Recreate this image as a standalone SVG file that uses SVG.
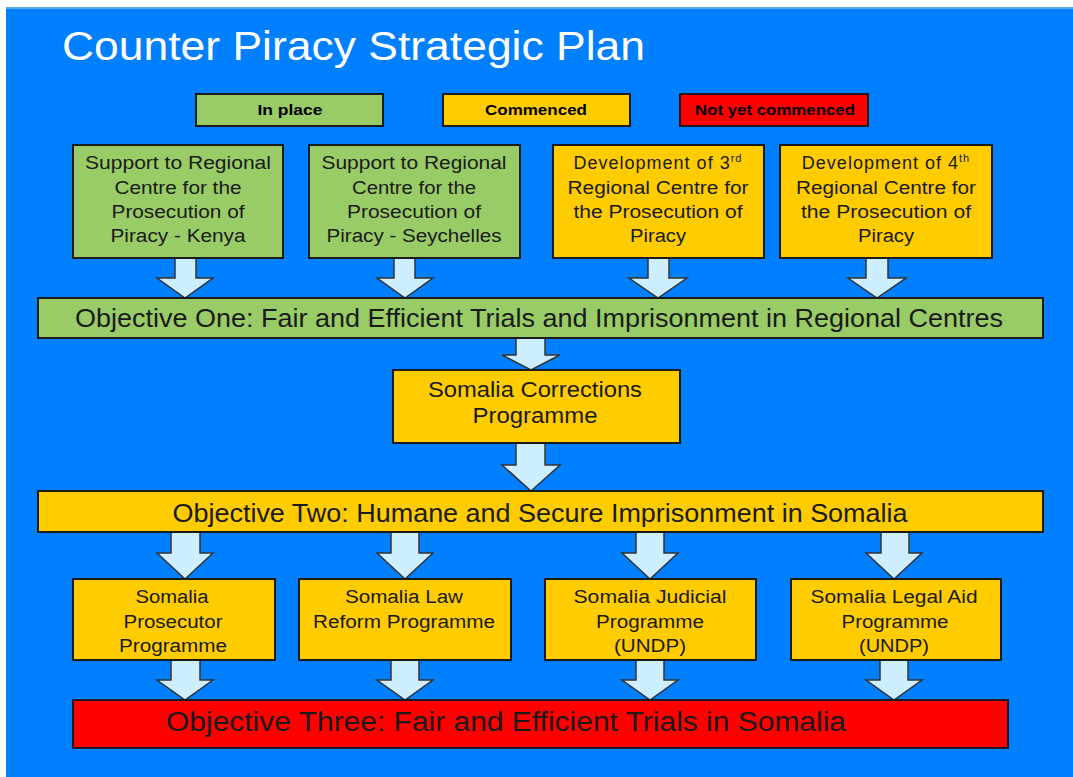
<svg xmlns="http://www.w3.org/2000/svg" width="1073" height="777" viewBox="0 0 1073 777">
<style>
.box{stroke:#1a1a1a;stroke-width:2}
.g{fill:#99CC66}
.y{fill:#FFCC00}
.r{fill:#FF0000}
.t{font-family:"Liberation Sans",Arial,sans-serif;fill:#1a1a1a;text-anchor:middle}
.s{font-size:18px}
.b{font-size:22px}
.o{font-size:25px}
.lg{font-size:15px;font-weight:bold;fill:#000}
.arr{fill:#CCEEFF;stroke:#333;stroke-width:1.5;stroke-linejoin:miter}
</style>
<rect x="0" y="0" width="1073" height="777" fill="#ffffff"/>
<rect x="6" y="7" width="1067" height="770" fill="#0080FF"/>
<rect x="6" y="7" width="1067" height="2" fill="#55AAEE"/>
<text x="62" y="60" font-family="'Liberation Sans',Arial,sans-serif" font-size="40" fill="#ffffff" textLength="583" lengthAdjust="spacingAndGlyphs">Counter Piracy Strategic Plan</text>

<g id="legend-in-place">
<rect class="box g" x="196" y="94" width="187" height="32"/>
<text class="t lg" x="290" y="115" textLength="65" lengthAdjust="spacingAndGlyphs">In place</text>
</g>
<g id="legend-commenced">
<rect class="box y" x="443" y="94" width="187" height="32"/>
<text class="t lg" x="536" y="115" textLength="102" lengthAdjust="spacingAndGlyphs">Commenced</text>
</g>
<g id="legend-not-commenced">
<rect class="box r" x="680" y="94" width="188" height="32"/>
<text class="t lg" x="775" y="115" textLength="160" lengthAdjust="spacingAndGlyphs">Not yet commenced</text>
</g>

<g id="connectors">
<path class="arr" d="M175,258 H196 V278 H213 L185,298 L157,278 H175 Z"/>
<path class="arr" d="M394,258 H415 V278 H433 L405,298 L377,278 H394 Z"/>
<path class="arr" d="M648,258 H669 V278 H687 L658,298 L629,278 H648 Z"/>
<path class="arr" d="M866,258 H888 V278 H906 L877,298 L848,278 H866 Z"/>
<path class="arr" d="M516,338 H545 V355 H560 L531,370 L502,355 H516 Z"/>
<path class="arr" d="M516,443 H545 V465 H560 L531,491 L502,465 H516 Z"/>
<path class="arr" d="M171,532 H200 V553 H213 L185,579 L157,553 H171 Z"/>
<path class="arr" d="M391,532 H419 V553 H433 L405,579 L377,553 H391 Z"/>
<path class="arr" d="M636,532 H664 V553 H678 L650,579 L622,553 H636 Z"/>
<path class="arr" d="M881,532 H909 V553 H922 L894,579 L866,553 H881 Z"/>
<path class="arr" d="M171,660 H200 V680 H213 L185,700 L157,680 H171 Z"/>
<path class="arr" d="M391,660 H419 V680 H433 L405,700 L377,680 H391 Z"/>
<path class="arr" d="M636,660 H664 V680 H678 L650,700 L622,680 H636 Z"/>
<path class="arr" d="M880,660 H908 V680 H922 L894,700 L866,680 H880 Z"/>
</g>

<g id="kenya">
<rect class="box g" x="73" y="145" width="210" height="113"/>
<text class="t s" x="178" y="169" textLength="186" lengthAdjust="spacingAndGlyphs">Support to Regional</text>
<text class="t s" x="178" y="194" textLength="127" lengthAdjust="spacingAndGlyphs">Centre for the</text>
<text class="t s" x="178" y="218" textLength="133" lengthAdjust="spacingAndGlyphs">Prosecution of</text>
<text class="t s" x="178" y="242" textLength="135" lengthAdjust="spacingAndGlyphs">Piracy - Kenya</text>
</g>
<g id="seychelles">
<rect class="box g" x="309" y="145" width="211" height="113"/>
<text class="t s" x="414" y="169" textLength="185" lengthAdjust="spacingAndGlyphs">Support to Regional</text>
<text class="t s" x="414" y="194" textLength="124" lengthAdjust="spacingAndGlyphs">Centre for the</text>
<text class="t s" x="414" y="218" textLength="134" lengthAdjust="spacingAndGlyphs">Prosecution of</text>
<text class="t s" x="414" y="242" textLength="175" lengthAdjust="spacingAndGlyphs">Piracy - Seychelles</text>
</g>
<g id="third-centre">
<rect class="box y" x="553" y="145" width="211" height="113"/>
<text class="t s" x="658" y="169" letter-spacing="1">Development of 3<tspan font-size="11" dy="-7">rd</tspan></text>
<text class="t s" x="658" y="194" textLength="181" lengthAdjust="spacingAndGlyphs">Regional Centre for</text>
<text class="t s" x="658" y="218" textLength="169" lengthAdjust="spacingAndGlyphs">the Prosecution of</text>
<text class="t s" x="658" y="242" textLength="56" lengthAdjust="spacingAndGlyphs">Piracy</text>
</g>
<g id="fourth-centre">
<rect class="box y" x="780" y="145" width="212" height="113"/>
<text class="t s" x="886" y="169" letter-spacing="1">Development of 4<tspan font-size="11" dy="-7">th</tspan></text>
<text class="t s" x="886" y="194" textLength="180" lengthAdjust="spacingAndGlyphs">Regional Centre for</text>
<text class="t s" x="886" y="218" textLength="170" lengthAdjust="spacingAndGlyphs">the Prosecution of</text>
<text class="t s" x="886" y="242" textLength="56" lengthAdjust="spacingAndGlyphs">Piracy</text>
</g>

<g id="objective-one">
<rect class="box g" x="38" y="298" width="1005" height="40"/>
<text class="t o" x="539" y="327" textLength="928" lengthAdjust="spacingAndGlyphs">Objective One: Fair and Efficient Trials and Imprisonment in Regional Centres</text>
</g>
<g id="corrections">
<rect class="box y" x="393" y="370" width="287" height="73"/>
<text class="t b" x="535" y="397" textLength="214" lengthAdjust="spacingAndGlyphs">Somalia Corrections</text>
<text class="t b" x="535" y="423" textLength="125" lengthAdjust="spacingAndGlyphs">Programme</text>
</g>
<g id="objective-two">
<rect class="box y" x="38" y="491" width="1005" height="41"/>
<text class="t o" x="540" y="522" textLength="735" lengthAdjust="spacingAndGlyphs">Objective Two: Humane and Secure Imprisonment in Somalia</text>
</g>

<g id="prosecutor">
<rect class="box y" x="73" y="579" width="202" height="81"/>
<text class="t s" x="172" y="603" textLength="73" lengthAdjust="spacingAndGlyphs">Somalia</text>
<text class="t s" x="173" y="628" textLength="99" lengthAdjust="spacingAndGlyphs">Prosecutor</text>
<text class="t s" x="173" y="652" textLength="108" lengthAdjust="spacingAndGlyphs">Programme</text>
</g>
<g id="law-reform">
<rect class="box y" x="299" y="579" width="212" height="81"/>
<text class="t s" x="404" y="603" textLength="118" lengthAdjust="spacingAndGlyphs">Somalia Law</text>
<text class="t s" x="404" y="628" textLength="182" lengthAdjust="spacingAndGlyphs">Reform Programme</text>
</g>
<g id="judicial">
<rect class="box y" x="545" y="579" width="211" height="81"/>
<text class="t s" x="650" y="603" textLength="153" lengthAdjust="spacingAndGlyphs">Somalia Judicial</text>
<text class="t s" x="650" y="628" textLength="108" lengthAdjust="spacingAndGlyphs">Programme</text>
<text class="t s" x="650" y="652" textLength="72" lengthAdjust="spacingAndGlyphs">(UNDP)</text>
</g>
<g id="legal-aid">
<rect class="box y" x="791" y="579" width="210" height="81"/>
<text class="t s" x="894" y="603" textLength="167" lengthAdjust="spacingAndGlyphs">Somalia Legal Aid</text>
<text class="t s" x="895" y="628" textLength="107" lengthAdjust="spacingAndGlyphs">Programme</text>
<text class="t s" x="894" y="652" textLength="70" lengthAdjust="spacingAndGlyphs">(UNDP)</text>
</g>

<g id="objective-three">
<rect class="box r" x="73" y="700" width="935" height="48"/>
<text class="t" x="506" y="731" font-size="27" fill="#220000" textLength="680" lengthAdjust="spacingAndGlyphs">Objective Three: Fair and Efficient Trials in Somalia</text>
</g>
</svg>
